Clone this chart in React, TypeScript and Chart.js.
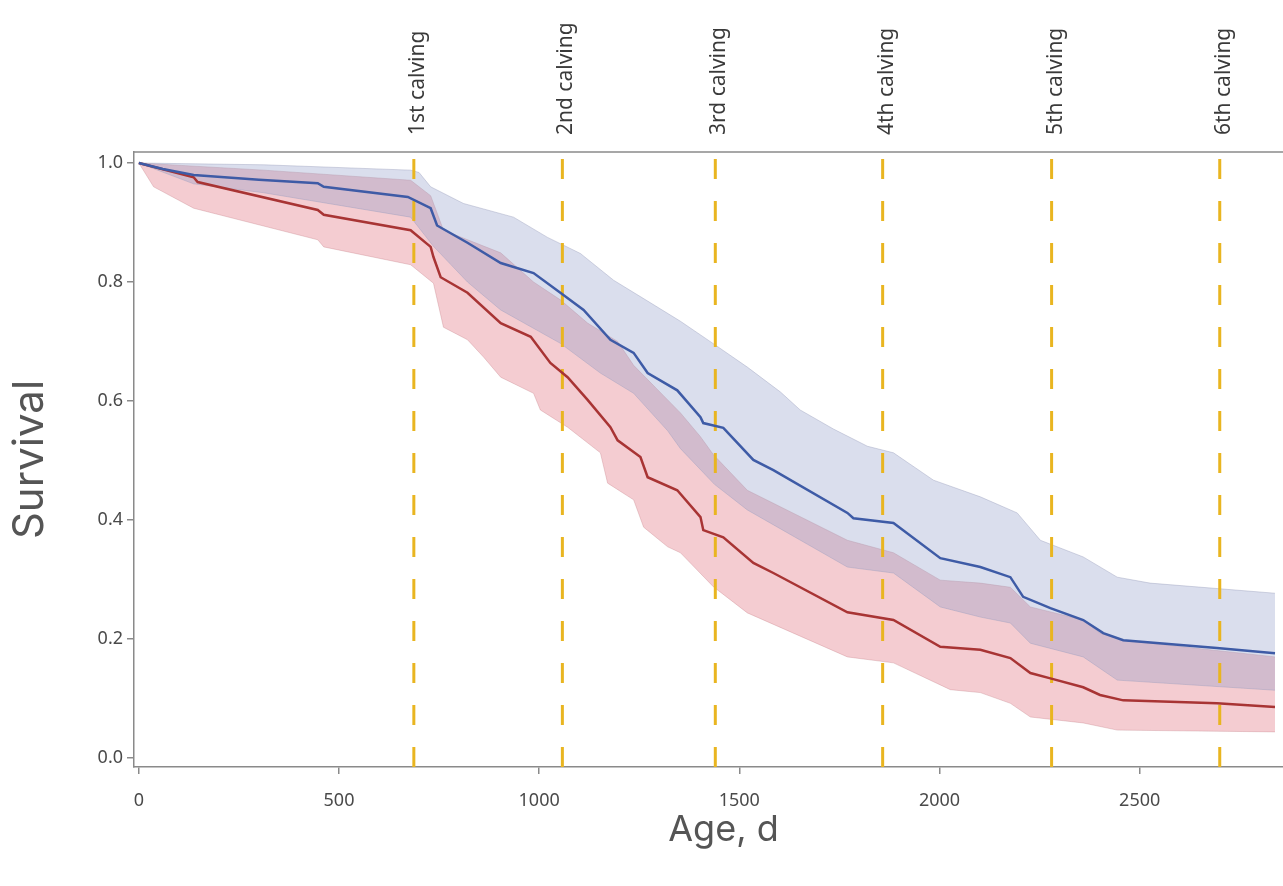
import React, { useEffect, useRef } from 'react';
import { Chart, registerables } from 'chart.js';

Chart.register(...registerables);

// ---- data ----
const blueLineAge = [0, 60, 137, 300, 447, 462, 672, 729, 745, 821, 904, 986, 1053, 1111, 1178, 1236, 1271, 1345, 1403, 1410, 1460, 1535, 1585, 1770, 1785, 1885, 2002, 2102, 2177, 2209, 2277, 2359, 2409, 2459, 2693, 2838];
const blueLineSurv = [1.0, 0.99, 0.98, 0.972, 0.966, 0.96, 0.943, 0.924, 0.895, 0.866, 0.832, 0.815, 0.782, 0.753, 0.703, 0.681, 0.647, 0.618, 0.573, 0.563, 0.555, 0.501, 0.484, 0.412, 0.403, 0.395, 0.336, 0.321, 0.304, 0.271, 0.252, 0.232, 0.21, 0.198, 0.185, 0.176];

const redLineAge = [0, 137, 147, 447, 462, 679, 729, 736, 754, 821, 904, 979, 1028, 1071, 1121, 1178, 1196, 1253, 1271, 1345, 1403, 1410, 1460, 1535, 1585, 1770, 1885, 2002, 2102, 2177, 2227, 2277, 2359, 2401, 2459, 2693, 2838];
const redLineSurv = [1.0, 0.976, 0.968, 0.921, 0.913, 0.887, 0.859, 0.842, 0.808, 0.782, 0.731, 0.708, 0.664, 0.64, 0.602, 0.556, 0.534, 0.506, 0.472, 0.45, 0.405, 0.383, 0.371, 0.328, 0.311, 0.245, 0.232, 0.187, 0.182, 0.168, 0.143, 0.134, 0.119, 0.106, 0.097, 0.092, 0.086];

const blueUpperAge = [0, 312, 679, 700, 729, 811, 936, 1021, 1103, 1186, 1271, 1353, 1436, 1520, 1603, 1652, 1735, 1820, 1885, 1985, 2102, 2194, 2252, 2359, 2444, 2526, 2838];
const blueUpperSurv = [1.0, 0.997, 0.988, 0.984, 0.96, 0.932, 0.909, 0.875, 0.848, 0.803, 0.768, 0.734, 0.696, 0.657, 0.615, 0.585, 0.553, 0.524, 0.513, 0.467, 0.439, 0.412, 0.366, 0.338, 0.304, 0.294, 0.277];

const blueLowerAge = [0, 137, 312, 679, 736, 821, 904, 1053, 1153, 1236, 1321, 1353, 1438, 1520, 1770, 1885, 2002, 2102, 2177, 2227, 2359, 2444, 2838];
const blueLowerSurv = [1.0, 0.965, 0.95, 0.909, 0.86, 0.8, 0.753, 0.697, 0.647, 0.613, 0.55, 0.52, 0.46, 0.417, 0.321, 0.311, 0.254, 0.237, 0.227, 0.193, 0.17, 0.131, 0.114];

const redUpperAge = [0, 312, 679, 729, 761, 904, 986, 1053, 1121, 1196, 1236, 1353, 1403, 1435, 1520, 1770, 1885, 2002, 2102, 2177, 2227, 2359, 2401, 2459, 2838];
const redUpperSurv = [1.0, 0.988, 0.971, 0.945, 0.887, 0.849, 0.8, 0.77, 0.731, 0.7, 0.66, 0.58, 0.54, 0.51, 0.45, 0.366, 0.345, 0.299, 0.294, 0.287, 0.254, 0.232, 0.21, 0.198, 0.17];

const redLowerAge = [0, 37, 137, 447, 462, 679, 736, 761, 821, 861, 904, 986, 1003, 1071, 1153, 1171, 1236, 1261, 1321, 1353, 1435, 1520, 1770, 1885, 2027, 2102, 2177, 2227, 2359, 2444, 2838];
const redLowerSurv = [1.0, 0.96, 0.924, 0.871, 0.859, 0.829, 0.798, 0.724, 0.703, 0.674, 0.64, 0.613, 0.585, 0.556, 0.513, 0.462, 0.434, 0.388, 0.355, 0.345, 0.288, 0.244, 0.17, 0.16, 0.115, 0.11, 0.092, 0.069, 0.059, 0.047, 0.044];

const calvingAges = [687, 1058, 1440, 1858, 2280, 2700];
const calvingLabels = ['1st calving', '2nd calving', '3rd calving', '4th calving', '5th calving', '6th calving'];

const xTicks = [0, 500, 1000, 1500, 2000, 2500];
const yTicks = [0, 0.2, 0.4, 0.6, 0.8, 1.0];

const X_MIN = -12;
const X_MAX = 2858;
const Y_MIN = -0.015;
const Y_MAX = 1.0185;

const toXY = (ages: number[], vals: number[]) => ages.map((a, i) => ({ x: a, y: vals[i] }));

const TICK_FONT = '"Noto Sans", "Open Sans", sans-serif';
const TITLE_FONT = 'Inter, "Open Sans", sans-serif';

export default function App() {
  const ref = useRef<HTMLCanvasElement | null>(null);

  useEffect(() => {
    document.body.style.margin = '0';
    const canvas = ref.current;
    if (!canvas) return;

    const overlay = {
      id: 'overlay',
      afterDraw(chart: any) {
        const { ctx, chartArea, scales } = chart;
        ctx.save();
        // top frame line
        ctx.strokeStyle = '#8a8a8a';
        ctx.lineWidth = 1.5;
        ctx.beginPath();
        ctx.moveTo(chartArea.left, chartArea.top);
        ctx.lineTo(chartArea.right, chartArea.top);
        ctx.stroke();
        // calving labels
        ctx.fillStyle = '#3a3a3a';
        ctx.font = `21px ${TICK_FONT}`;
        ctx.textAlign = 'left';
        ctx.textBaseline = 'middle';
        calvingAges.forEach((a, i) => {
          const px = scales.x.getPixelForValue(a);
          ctx.save();
          ctx.translate(px + 4, chartArea.top - 17);
          ctx.rotate(-Math.PI / 2);
          ctx.fillText(calvingLabels[i], 0, 0);
          ctx.restore();
        });
        // x title
        ctx.fillStyle = '#555';
        ctx.font = `36px ${TITLE_FONT}`;
        ctx.textAlign = 'center';
        ctx.textBaseline = 'middle';
        ctx.fillText('Age, d', (chartArea.left + chartArea.right) / 2 + 15, chartArea.bottom + 63);
        ctx.restore();
      },
    };

    const lineDs = (data: any, color: string) => ({
      data,
      borderColor: color,
      borderWidth: 2.5,
      pointRadius: 0,
      fill: false,
      tension: 0,
    });

    const calvingDs = calvingAges.map((a) => ({
      data: [{ x: a, y: Y_MIN }, { x: a, y: Y_MAX }],
      borderColor: '#e9b520',
      borderWidth: 3,
      borderDash: [20, 22],
      pointRadius: 0,
      fill: false,
    }));

    const chart = new Chart(canvas, {
      type: 'line',
      data: {
        datasets: [
          lineDs(toXY(blueLineAge, blueLineSurv), '#3e5ba6'),
          lineDs(toXY(redLineAge, redLineSurv), '#a83434'),
          ...calvingDs,
          {
            data: toXY(blueUpperAge, blueUpperSurv),
            borderColor: 'rgba(150,155,185,0.4)',
            borderWidth: 1,
            backgroundColor: 'rgba(140,152,200,0.32)',
            pointRadius: 0,
            fill: '+1',
            tension: 0,
          },
          {
            data: toXY(blueLowerAge, blueLowerSurv),
            borderColor: 'rgba(150,155,185,0.4)',
            borderWidth: 1,
            pointRadius: 0,
            fill: false,
            tension: 0,
          },
          {
            data: toXY(redUpperAge, redUpperSurv),
            borderColor: 'rgba(200,150,155,0.4)',
            borderWidth: 1,
            backgroundColor: 'rgba(222,100,115,0.33)',
            pointRadius: 0,
            fill: '+1',
            tension: 0,
          },
          {
            data: toXY(redLowerAge, redLowerSurv),
            borderColor: 'rgba(200,150,155,0.4)',
            borderWidth: 1,
            pointRadius: 0,
            fill: false,
            tension: 0,
          },
        ] as any,
      },
      options: {
        responsive: false,
        animation: false,
        layout: { padding: { top: 152, left: 0, right: 0, bottom: 0 } },
        plugins: {
          legend: { display: false },
          tooltip: { enabled: false },
        },
        scales: {
          x: {
            type: 'linear',
            min: X_MIN,
            max: X_MAX,
            afterBuildTicks: (s: any) => {
              s.ticks = xTicks.map((v) => ({ value: v }));
            },
            afterFit: (s: any) => {
              s.height = 119;
            },
            ticks: {
              font: { family: TICK_FONT, size: 18 },
              color: '#4a4a4a',
              padding: 16,
              maxRotation: 0,
              callback: (v: any) => String(v),
            },
            grid: { display: true, drawOnChartArea: false, drawTicks: true, tickLength: 7, color: '#8a8a8a', lineWidth: 1.5 },
            border: { display: true, color: '#8a8a8a', width: 1.5 },
          },
          y: {
            type: 'linear',
            min: Y_MIN,
            max: Y_MAX,
            afterBuildTicks: (s: any) => {
              s.ticks = yTicks.map((v) => ({ value: v }));
            },
            afterFit: (s: any) => {
              s.width = 134;
            },
            ticks: {
              font: { family: TICK_FONT, size: 18 },
              color: '#4a4a4a',
              padding: 4,
              callback: (v: any) => Number(v).toFixed(1),
            },
            title: {
              display: true,
              text: 'Survival',
              font: { family: TITLE_FONT, size: 42 },
              color: '#555',
              padding: { top: 5, bottom: 0 },
            },
            grid: { display: true, drawOnChartArea: false, drawTicks: true, tickLength: 7, color: '#8a8a8a', lineWidth: 1.5 },
            border: { display: true, color: '#8a8a8a', width: 1.5 },
          },
        },
      } as any,
      plugins: [overlay],
    });

    return () => chart.destroy();
  }, []);

  return (
    <canvas ref={ref} width={1283} height={886} style={{ display: 'block', width: 1283, height: 886 }} />
  );
}
